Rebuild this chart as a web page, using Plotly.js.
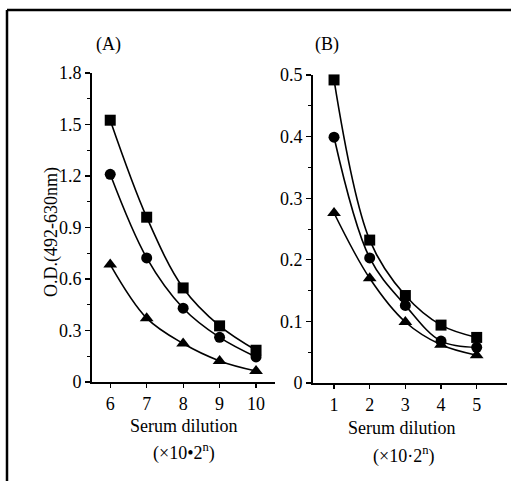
<!DOCTYPE html>
<html>
<head>
<meta charset="utf-8">
<script src="https://cdn.plot.ly/plotly-3.0.1.min.js"></script>
<style>html,body{margin:0;padding:0;background:#fff;}#chart{width:511px;height:481px;}</style>
</head>
<body>
<div id="chart"></div>
<script>
// Panel A data
var dilutionA = [6, 7, 8, 9, 10];
var squareA = [1.525, 0.96, 0.548, 0.327, 0.185];
var circleA = [1.21, 0.723, 0.43, 0.26, 0.146];
var triangleA = [0.684, 0.372, 0.224, 0.123, 0.064];
// Panel B data
var dilutionB = [1, 2, 3, 4, 5];
var squareB = [0.492, 0.232, 0.142, 0.094, 0.074];
var circleB = [0.399, 0.203, 0.126, 0.068, 0.058];
var triangleB = [0.276, 0.170, 0.099, 0.062, 0.045];
// Tick labels
var yTicksA = [0, 0.3, 0.6, 0.9, 1.2, 1.5, 1.8];
var yTickTextA = ["0", "0.3", "0.6", "0.9", "1.2", "1.5", "1.8"];
var yTicksB = [0, 0.1, 0.2, 0.3, 0.4, 0.5];
var yTickTextB = ["0", "0.1", "0.2", "0.3", "0.4", "0.5"];

var W = 511, H = 481;
function px(x){return x/W;}
function py(y){return 1 - y/H;}

var FONT = "Liberation Serif, Times New Roman, serif";

function series(x, y, sym, xa, ya){
  return {x:x, y:y, type:'scatter', mode:'lines+markers', xaxis:xa, yaxis:ya,
    line:{shape:'spline', smoothing:1, color:'#000', width:1.6},
    marker:{symbol:sym, size: sym==='triangle-up'?12:11, color:'#000'},
    showlegend:false, cliponaxis:false};
}

var data = [
  series(dilutionA, squareA, 'square', 'x', 'y'),
  series(dilutionA, circleA, 'circle', 'x', 'y'),
  series(dilutionA, triangleA, 'triangle-up', 'x', 'y'),
  series(dilutionB, squareB, 'square', 'x2', 'y2'),
  series(dilutionB, circleB, 'circle', 'x2', 'y2'),
  series(dilutionB, triangleB, 'triangle-up', 'x2', 'y2')
];

var axCommon = {showgrid:false, zeroline:false, showline:true, linecolor:'#000', linewidth:2,
  ticks:'outside', ticklen:5, tickwidth:1.2, tickcolor:'#000',
  tickfont:{family:FONT, size:18, color:'#000'}, fixedrange:true};

function merge(a,b){var o={};for(var k in a)o[k]=a[k];for(var k2 in b)o[k2]=b[k2];return o;}

var layout = {
  width:W, height:H, margin:{l:0,r:0,t:0,b:0},
  paper_bgcolor:'#fff', plot_bgcolor:'rgba(0,0,0,0)',
  xaxis: merge(axCommon, {domain:[px(92), px(275)], range:[5.5, 10.52], tickvals:dilutionA, ticktext:dilutionA.map(String), anchor:'y', ticklen:4}),
  yaxis: merge(axCommon, {domain:[py(382), py(73)], range:[0, 1.8], tickvals:yTicksA, ticktext:yTickTextA, anchor:'x',
    minor:{dtick:0.15, tick0:0, ticks:'outside', ticklen:3, tickcolor:'#000', tickwidth:1}}),
  xaxis2: merge(axCommon, {domain:[px(313), px(507)], range:[0.41, 5.85], tickvals:dilutionB, ticktext:dilutionB.map(String), anchor:'y2', ticklen:4}),
  yaxis2: merge(axCommon, {domain:[py(383), py(75)], range:[0, 0.5], tickvals:yTicksB, ticktext:yTickTextB, anchor:'x2',
    minor:{dtick:0.05, tick0:0, ticks:'outside', ticklen:3, tickcolor:'#000', tickwidth:1}}),
  shapes:[
    {type:'line', xref:'paper', yref:'paper', x0:px(7), x1:1, y0:py(10), y1:py(10), line:{color:'#000', width:2.5}},
    {type:'line', xref:'paper', yref:'paper', x0:px(7), x1:px(7), y0:py(10), y1:0, line:{color:'#000', width:2.5}}
  ],
  annotations:[
    {text:'(A)', xref:'paper', yref:'paper', x:px(108), y:py(44), showarrow:false, xanchor:'center', yanchor:'middle', font:{family:FONT, size:18, color:'#000'}},
    {text:'(B)', xref:'paper', yref:'paper', x:px(327), y:py(44), showarrow:false, xanchor:'center', yanchor:'middle', font:{family:FONT, size:18, color:'#000'}},
    {text:'O.D.(492-630nm)', xref:'paper', yref:'paper', x:px(51), y:py(232), textangle:-90, showarrow:false, xanchor:'center', yanchor:'middle', font:{family:FONT, size:18, color:'#000'}},
    {text:'Serum dilution', xref:'paper', yref:'paper', x:px(184), y:py(426), showarrow:false, xanchor:'center', yanchor:'middle', font:{family:FONT, size:18, color:'#000'}},
    {text:'(\u00d710\u20222<sup>n</sup>)', xref:'paper', yref:'paper', x:px(184), y:py(452), showarrow:false, xanchor:'center', yanchor:'middle', font:{family:FONT, size:18, color:'#000'}},
    {text:'Serum dilution', xref:'paper', yref:'paper', x:px(402), y:py(428), showarrow:false, xanchor:'center', yanchor:'middle', font:{family:FONT, size:18, color:'#000'}},
    {text:'(\u00d710\u00b72<sup>n</sup>)', xref:'paper', yref:'paper', x:px(403), y:py(455), showarrow:false, xanchor:'center', yanchor:'middle', font:{family:FONT, size:18, color:'#000'}}
  ]
};

Plotly.newPlot('chart', data, layout, {displayModeBar:false, staticPlot:true});
</script>
</body>
</html>
